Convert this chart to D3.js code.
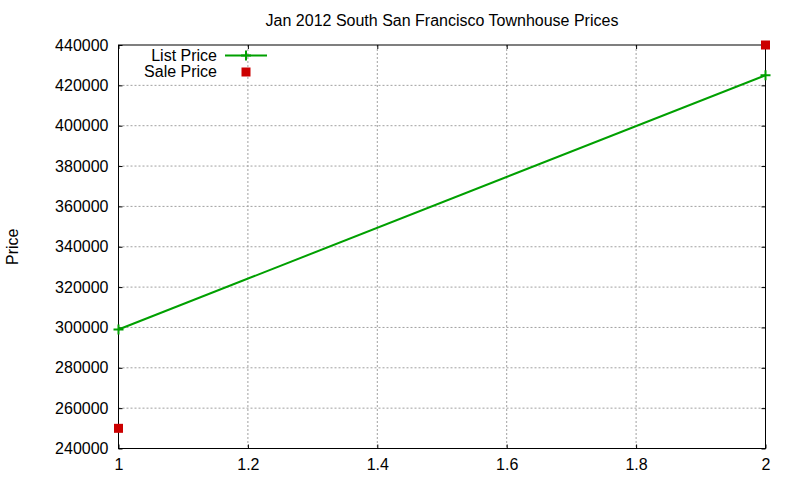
<!DOCTYPE html>
<html>
<head>
<meta charset="utf-8">
<script src="https://cdn.jsdelivr.net/npm/d3@7"></script>
<style>
  body { margin: 0; background: #fff; }
  svg text { font-family: "Liberation Sans", Arial, sans-serif; font-size: 16px; fill: #000; }
</style>
</head>
<body>
<svg id="chart" width="800" height="480"></svg>
<script>
// data
const listX = [1, 2];
const listPrice = [299000, 425000];
const saleX = [1, 2];
const salePrice = [250000, 440000];
const xTicks = [1, 1.2, 1.4, 1.6, 1.8, 2];
const yTicks = [240000, 260000, 280000, 300000, 320000, 340000, 360000, 380000, 400000, 420000, 440000];
const titleText = "Jan 2012 South San Francisco Townhouse Prices";
const seriesNames = ["List Price", "Sale Price"];

const svg = d3.select("#chart");
const margin = { top: 45, right: 34.5, bottom: 31.5, left: 118.5 };
const innerW = 800 - margin.left - margin.right;
const innerH = 480 - margin.top - margin.bottom;

const x = d3.scaleLinear().domain([1, 2]).range([0, innerW]);
const y = d3.scaleLinear().domain([240000, 440000]).range([innerH, 0]);

const g = svg.append("g").attr("transform", `translate(${margin.left},${margin.top})`);

// grid
g.append("g").selectAll("line.gx").data(xTicks.slice(1, -1)).join("line")
  .attr("x1", d => x(d)).attr("x2", d => x(d))
  .attr("y1", 0).attr("y2", innerH)
  .attr("stroke", "#a0a0a0").attr("stroke-dasharray", "2,2");
g.append("g").selectAll("line.gy").data(yTicks.slice(1, -1)).join("line")
  .attr("x1", 0).attr("x2", innerW)
  .attr("y1", d => y(d)).attr("y2", d => y(d))
  .attr("stroke", "#a0a0a0").attr("stroke-dasharray", "2,2");

// axes (inward ticks, mirrored)
const xAxis = d3.axisBottom(x).tickValues(xTicks).tickSizeInner(-4).tickSizeOuter(0).tickPadding(10)
  .tickFormat(d3.format("~g"));
const yAxis = d3.axisLeft(y).tickValues(yTicks).tickSizeInner(-4).tickSizeOuter(0).tickPadding(10)
  .tickFormat(d3.format("d"));

const gx = g.append("g").attr("transform", `translate(0,${innerH})`).call(xAxis);
const gy = g.append("g").call(yAxis);
const gxTop = g.append("g").call(d3.axisTop(x).tickValues(xTicks).tickSizeInner(-4).tickSizeOuter(0).tickFormat(""));
const gyRight = g.append("g").attr("transform", `translate(${innerW},0)`)
  .call(d3.axisRight(y).tickValues(yTicks).tickSizeInner(-4).tickSizeOuter(0).tickFormat(""));

[gx, gy, gxTop, gyRight].forEach(a => {
  a.select(".domain").remove();
  a.selectAll("line").attr("stroke", "#000");
  a.selectAll("text").attr("font-size", 16).attr("font-family", "Liberation Sans, Arial, sans-serif");
});

// frame
g.append("rect").attr("width", innerW).attr("height", innerH)
  .attr("fill", "none").attr("stroke", "#000").attr("stroke-width", 1);

// list price line
const listData = listX.map((d, i) => ({ x: d, y: listPrice[i] }));
g.append("path").datum(listData)
  .attr("fill", "none").attr("stroke", "#00a000").attr("stroke-width", 2)
  .attr("d", d3.line().x(d => x(d.x)).y(d => y(d.y)));

const plus = (sel, px, py) => {
  sel.append("path")
    .attr("d", `M${px - 5},${py}H${px + 5}M${px},${py - 5}V${py + 5}`)
    .attr("stroke", "#00a000").attr("stroke-width", 2).attr("fill", "none");
};
listData.forEach(d => plus(g, x(d.x), y(d.y)));

// sale price points
const saleData = saleX.map((d, i) => ({ x: d, y: salePrice[i] }));
g.selectAll("rect.sale").data(saleData).join("rect")
  .attr("class", "sale")
  .attr("x", d => x(d.x) - 4.5).attr("y", d => y(d.y) - 4.5)
  .attr("width", 9).attr("height", 9)
  .attr("fill", "#cc0000");

// title
svg.append("text")
  .attr("x", margin.left + innerW / 2).attr("y", 26)
  .attr("text-anchor", "middle")
  .text(titleText);

// y label
svg.append("text")
  .attr("transform", `translate(18, ${margin.top + innerH / 2}) rotate(-90)`)
  .attr("text-anchor", "middle")
  .text("Price");

// legend
const leg = svg.append("g");
leg.append("text").attr("x", 217).attr("y", 61).attr("text-anchor", "end").text(seriesNames[0]);
leg.append("line").attr("x1", 225).attr("x2", 267).attr("y1", 55.5).attr("y2", 55.5)
  .attr("stroke", "#00a000").attr("stroke-width", 2);
plus(leg, 246, 55.5);
leg.append("text").attr("x", 217).attr("y", 77).attr("text-anchor", "end").text(seriesNames[1]);
leg.append("rect").attr("x", 241.5).attr("y", 67.5).attr("width", 9).attr("height", 9).attr("fill", "#cc0000");
</script>
</body>
</html>
